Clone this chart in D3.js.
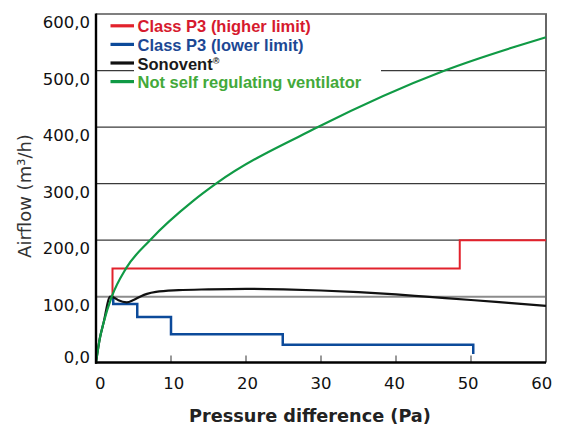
<!DOCTYPE html>
<html>
<head>
<meta charset="utf-8">
<script src="https://cdn.jsdelivr.net/npm/d3@7"></script>
<style>
  html, body { margin: 0; padding: 0; background: #fff; }
  svg { display: block; }
</style>
</head>
<body>
<svg id="chart" width="563" height="425"></svg>
<script>
// ---- data ----
const xTicks = [0, 10, 20, 30, 40, 50, 60];
const yTicks = [0, 100, 200, 300, 400, 500, 600];
const yTickLabels = ["0,0", "100,0", "200,0", "300,0", "400,0", "500,0", "600,0"];

// Class P3 (higher limit)
const p3High = [[2.2, 100], [2.2, 150], [48.5, 150], [48.5, 200], [60, 200]];
// Class P3 (lower limit)
const p3Low = [[2.3, 100], [2.3, 89], [5.5, 89], [5.5, 69], [10, 69], [10, 43],
               [24.9, 43], [24.9, 27], [50.3, 27], [50.3, 13]];
// Sonovent
const sonovent = [[0, 0], [0.5, 36], [1, 60], [1.9, 100], [2.5, 98], [3, 94.5],
                  [4.1, 91.5], [5, 95], [6, 101], [6.8, 105], [8, 108.5], [11, 111.5],
                  [15, 113], [20, 114], [25, 113], [30, 111], [35, 108], [40, 104],
                  [44, 100], [50, 95], [55, 90.5], [60, 86]];
// Not self regulating ventilator
const notRegulating = [[0, 0], [0.5, 36], [1, 60], [2.1, 100], [4, 150], [7.2, 200],
                       [13, 270], [16, 300], [29.6, 400], [46.5, 500], [60, 559]];

const legendItems = [
  { label: "Class P3 (higher limit)", line: "#e2222c", text: "#d61a2e", sup: "" },
  { label: "Class P3 (lower limit)", line: "#0c4a9a", text: "#1c4894", sup: "" },
  { label: "Sonovent", line: "#111111", text: "#1a1a1a", sup: "®" },
  { label: "Not self regulating ventilator", line: "#109a45", text: "#43a93a", sup: "" }
];

const xTitle = "Pressure difference (Pa)";
const yTitle = "Airflow (m³/h)";

// ---- layout ----
const plotL = 96, plotR = 546, plotT = 14, plotB = 362.5;

const svg = d3.select("#chart");

const x = d3.scaleLinear().domain([0, 60]).range([plotL, plotR]);
const y = d3.scaleLinear().domain([0, 100, 600]).range([plotB, 296.7, plotT]);
// label placement scales (labels in the reference sit slightly off their lines)
const yLab = d3.scaleLinear().domain([0, 100, 600]).range([357.5, 305, 22]);
const xLab = d3.scaleLinear().domain([0, 60]).range([100.3, 541.7]);

// gridlines
svg.append("g").selectAll("line")
  .data(yTicks.filter(v => v > 0 && v < 600))
  .join("line")
  .attr("x1", plotL).attr("x2", plotR)
  .attr("y1", d => y(d)).attr("y2", d => y(d))
  .attr("stroke", d => d === 100 ? "#8c8c8c" : "#3a3a3a")
  .attr("stroke-width", d => d === 100 ? 2 : 1.2);

// frame top + right
svg.append("line").attr("x1", plotL).attr("x2", plotR + 1).attr("y1", y(600)).attr("y2", y(600))
  .attr("stroke", "#555").attr("stroke-width", 1.6);
svg.append("line").attr("x1", plotR).attr("x2", plotR).attr("y1", y(600)).attr("y2", plotB)
  .attr("stroke", "#666").attr("stroke-width", 2);

// x ticks (inside, small)
svg.append("g").selectAll("line")
  .data(xTicks.filter(v => v > 0 && v < 60))
  .join("line")
  .attr("x1", d => x(d)).attr("x2", d => x(d))
  .attr("y1", plotB).attr("y2", plotB - 7)
  .attr("stroke", "#555").attr("stroke-width", 1.2);

// legend background
svg.append("rect").attr("x", 134).attr("y", 16).attr("width", 247).attr("height", 76)
  .attr("fill", "#fff");

// series
const stepLine = d3.line().x(d => x(d[0])).y(d => y(d[1]));
const smoothLine = d3.line().x(d => x(d[0])).y(d => y(d[1])).curve(d3.curveMonotoneX);

svg.append("path").datum(p3High).attr("d", stepLine)
  .attr("fill", "none").attr("stroke", legendItems[0].line).attr("stroke-width", 2)
  .attr("stroke-linejoin", "miter");
svg.append("path").datum(p3Low).attr("d", stepLine)
  .attr("fill", "none").attr("stroke", legendItems[1].line).attr("stroke-width", 2.5)
  .attr("stroke-linejoin", "miter");
svg.append("path").datum(sonovent).attr("d", smoothLine)
  .attr("fill", "none").attr("stroke", legendItems[2].line).attr("stroke-width", 2.2);
svg.append("path").datum(notRegulating).attr("d", smoothLine)
  .attr("fill", "none").attr("stroke", legendItems[3].line).attr("stroke-width", 2.2);

// axes lines
svg.append("line").attr("x1", plotL).attr("x2", plotL).attr("y1", plotT - 0.5).attr("y2", plotB + 1.2)
  .attr("stroke", "#000").attr("stroke-width", 2.4);
svg.append("line").attr("x1", plotL - 1).attr("x2", plotR).attr("y1", plotB).attr("y2", plotB)
  .attr("stroke", "#000").attr("stroke-width", 2.4);

// y tick labels
svg.append("g").selectAll("text")
  .data(yTicks)
  .join("text")
  .attr("x", 90).attr("y", d => yLab(d)).attr("dy", "0.36em")
  .attr("text-anchor", "end")
  .attr("font-family", "DejaVu Sans").attr("font-size", 16.5).attr("fill", "#111")
  .text((d, i) => yTickLabels[i]);

// x tick labels
svg.append("g").selectAll("text")
  .data(xTicks)
  .join("text")
  .attr("x", d => xLab(d)).attr("y", 389)
  .attr("text-anchor", "middle")
  .attr("font-family", "DejaVu Sans").attr("font-size", 16.5).attr("fill", "#111")
  .text(d => d);

// axis titles
svg.append("text")
  .attr("x", 310).attr("y", 421.5).attr("text-anchor", "middle")
  .attr("font-family", "DejaVu Sans").attr("font-weight", "bold").attr("font-size", 17.7)
  .attr("fill", "#222")
  .text(xTitle);

svg.append("text")
  .attr("transform", "translate(30.5,196) rotate(-90)")
  .attr("text-anchor", "middle")
  .attr("font-family", "DejaVu Sans").attr("font-size", 18).attr("fill", "#333")
  .text(yTitle);

// legend
const lg = svg.append("g").selectAll("g").data(legendItems).join("g")
  .attr("transform", (d, i) => `translate(0, ${32.3 + i * 18.6})`);
lg.append("line").attr("x1", 110.5).attr("x2", 134).attr("y1", -6.5).attr("y2", -6.5)
  .attr("stroke", d => d.line).attr("stroke-width", 3.2);
const lt = lg.append("text").attr("x", 137.5).attr("y", 0)
  .attr("font-family", "Liberation Sans, Arial, sans-serif").attr("font-weight", "bold")
  .attr("font-size", 16.5).attr("fill", d => d.text);
lt.append("tspan").text(d => d.label);
lt.append("tspan").attr("font-size", 9).attr("dy", -6).text(d => d.sup);
</script>
</body>
</html>
